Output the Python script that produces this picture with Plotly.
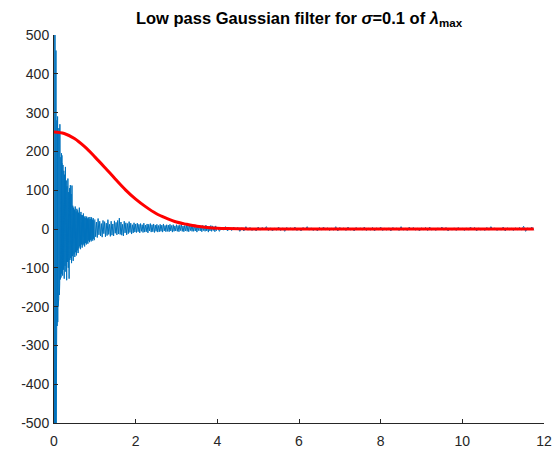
import plotly.graph_objects as go

# ---- data ----
# blue signal, stored in segments with their own start and sample step
seg_a_start, seg_a_step = 0.0, 0.004
seg_a_vals = [560, -580, 540, -600, 520, -560, 530, -540, 500, -570, 510, -530, 460, -520, 420,
              -255, 300, -230, 280, -250, 265, -210, 290, -240, 250,
              -200, 240, -157, 230, -180, 260, -150, 210, -170, 225,
              -140, 270, -120, 200, -130, 190, -110, 185, -125, 175, -100, 195, -115, 170, -105]

seg_b_start, seg_b_step = 0.2, 0.01
seg_b_vals = [190, -120, 165, -105, 150, -128, 140, -95, 160, -110,
              125, -132, 110, -85, 130, -100, 95, -128, 105, -80,
              113, -75, 90, -88, 112, -70, 60, -82, 55, -65,
              50, -72, 58, -60, 45, -68, 52, -55, 48, -62,
              42, -50, 55, -45, 38, -52, 44, -40, 36, -48,
              35, -42, 40, -38, 30, -45, 33, -36, 28, -40,
              32, -35, 27, -38, 30, -30, 25, -34, 31, -28,
              26, -32, 30, -27, 24, -30, 28, -25, 22, -29]

seg_c_start, seg_c_step = 1.0, 0.02
seg_c_vals = [25, -20, 18, -22, 27, -15, 20, -18, 14, -21,
              22, -12, 19, -20, 15, -17, 24, -14, 12, -19,
              20, -16, 13, -18, 21, -11, 17, -15, 22, -13,
              28, -14, 18, -16, 12, -18, 20, -10, 16, -15,
              14, -12, 19, -9, 15, -13, 11, -10, 16, -8,
              13, -9, 15, -7, 12, -10, 14, -6, 11, -9,
              15, -8, 10, -7, 13, -10, 12, -5, 14, -8,
              11, -7, 13, -9, 10, -6, 12, -8, 9, -7,
              12, -6, 10, -8, 13, -5, 9, -7, 11, -6,
              10, -7, 12, -5, 9, -8, 11, -6, 8, -5,
              11, -6, 9, -7, 10, -4, 12, -6, 8, -7,
              9, -5, 10, -6, 8, -7, 11, -4, 9, -6,
              8, -6, 10, -5, 7, -8, 9, -4, 10, -5,
              8, -7, 9, -4, 7, -6, 10, -5, 6, -8,
              7, -5, 9, -6, 8, -4, 6, -7, 8, -5]

seg_d_start, seg_d_step = 4.0, 0.05
seg_d_vals = [5, -6, 4, -3, 6, -5, 3, -4, 5, -2, 4, -6,
              3, -5, 6, -3, 4, -4, 2, -5, 5, -3, 4, -2,
              6, -4, 3, -5, 2, -3, 5, -4, 3, -6, 4, -2,
              3, -3, 5, -4, 2, -5, 4, -2, 6, -3, 3, -4,
              2, -5, 4, -3, 5, -2, 3, -4, 2, -3, 6, -5,
              4, -2, 3, -4, 5, -3, 2, -5, 4, -2, 3, -3,
              5, -4, 2, -3, 4, -5, 3, -2, 5, -4, 2, -3,
              3, -5, 4, -2, 3, -4, 6, -3, 2, -4, 5, -2,
              4, -3, 2, -5, 3, -2, 4, -4, 5, -3, 2, -4,
              3, -2, 5, -3, 4, -5, 2, -3, 3, -4, 4, -2,
              2, -4, 3, -3, 5, -2, 4, -5, 3, -3, 2, -4,
              4, -3, 6, -2, 3, -4, 2, -3, 5, -5, 3, -2,
              2, -4, 3, -2, 4, -3, 7, -6, 3, -2, 5, -3]

# red Gaussian filter response
red_start, red_step = 0.0, 0.25
red_vals = [250, 246, 233, 212, 186, 158, 129, 101, 77, 57, 40, 28, 18, 12, 7, 4,
            2, 1, 0.5, 0.2, 0, 0, 0, 0, 0, 0, 0, 0, 0, 0, 0, 0,
            0, 0, 0, 0, 0, 0, 0, 0, 0, 0, 0, 0, 0, 0, 0, 0]

x_ticks = [0, 2, 4, 6, 8, 10, 12]
y_ticks = [-500, -400, -300, -200, -100, 0, 100, 200, 300, 400, 500]

BLUE = "#0072BD"
RED = "#FF0000"
AX = "#262626"

fig = go.Figure()
for start, step, vals in [(seg_a_start, seg_a_step, seg_a_vals),
                          (seg_b_start, seg_b_step, seg_b_vals),
                          (seg_c_start, seg_c_step, seg_c_vals),
                          (seg_d_start, seg_d_step, seg_d_vals)]:
    fig.add_trace(go.Scatter(x0=start, dx=step, y=vals, mode="lines",
                             line=dict(color=BLUE, width=1), showlegend=False,
                             hoverinfo="skip"))
fig.add_trace(go.Scatter(x0=red_start, dx=red_step, y=red_vals, mode="lines",
                         line=dict(color=RED, width=3, shape="spline"),
                         showlegend=False))

W, H = 555, 452
fig.update_layout(
    width=W, height=H,
    margin=dict(l=54, r=11, t=35, b=29, autoexpand=False),
    paper_bgcolor="white", plot_bgcolor="white",
    font=dict(family="Liberation Sans, Arial, sans-serif", color=AX, size=14),
    title=dict(text="<b>Low pass Gaussian filter for <i>σ</i>=0.1 of <i>λ</i><sub>max</sub></b>",
               x=0.5, xref="paper", xanchor="center",
               y=1 - 18 / H, yref="container", yanchor="middle",
               font=dict(size=16.5, color="black")),
)
fig.update_xaxes(range=[0, 12], tickvals=x_ticks, ticktext=[str(v) for v in x_ticks],
                 showline=True, linecolor=AX, linewidth=1, mirror=False,
                 ticks="inside", ticklen=4, tickcolor=AX, showgrid=False, zeroline=False,
                 ticklabelstandoff=5, automargin=False, ticklabeloverflow="allow")
fig.update_yaxes(range=[-500, 500], tickvals=y_ticks, ticktext=[str(v) for v in y_ticks],
                 showline=True, linecolor=AX, linewidth=1, mirror=False,
                 ticks="inside", ticklen=4, tickcolor=AX, showgrid=False, zeroline=False,
                 ticklabelstandoff=1, automargin=False, ticklabeloverflow="allow")

# remove the default page margin so the figure fills the window exactly
fig.write_html("out.html", config={"displayModeBar": False},
               post_script="document.body.style.margin='0';document.body.style.overflow='hidden';")
